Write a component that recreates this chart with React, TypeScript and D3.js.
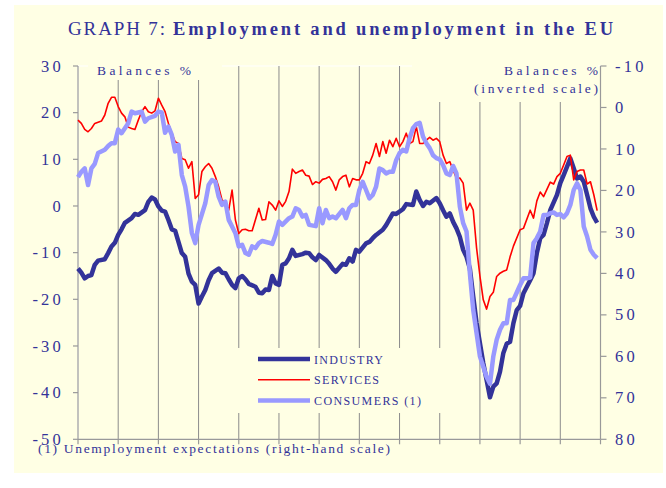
import * as d3 from 'd3';

// months since the start of the period (Jan of first year), value in balances %
const INDUSTRY: [number, number][] = [
  [0, -13.4], [1, -14.3], [2, -15.5], [3, -15.0], [4, -14.8], [5, -12.6], [6, -11.7], [8, -11.4], [9, -10.1],
  [10, -8.7], [11, -7.9], [12, -6.2], [13, -5.0], [14, -3.6], [16, -2.6], [17, -1.7], [18, -1.9], [20, -0.9],
  [21, 0.9], [22, 1.8], [23, 1.4], [24, -0.1], [25, -1.0], [26, -1.2], [27, -3.0], [28, -5.0], [29, -5.3],
  [31, -10.1], [32, -10.9], [33, -14.5], [34, -16.2], [35, -16.9], [36, -20.9], [37, -19.4], [38, -18.0],
  [39, -15.9], [40, -14.4], [42, -13.4], [43, -14.3], [44, -14.4], [45, -15.7], [46, -16.9], [47, -17.6],
  [48, -15.5], [49, -15.0], [50, -15.7], [51, -16.7], [53, -17.3], [54, -18.6], [55, -18.7], [56, -17.9],
  [57, -18.0], [58, -15.0], [59, -16.6], [60, -16.9], [61, -12.6], [62, -12.3], [63, -11.2], [64, -9.4],
  [65, -10.7], [67, -10.3], [68, -10.0], [69, -10.1], [70, -11.0], [71, -11.6], [72, -10.5], [74, -11.6],
  [75, -12.4], [76, -13.4], [77, -14.1], [79, -12.4], [80, -12.6], [81, -11.2], [82, -11.9], [83, -9.4],
  [84, -9.8], [86, -8.0], [87, -7.7], [88, -6.9], [89, -6.2], [91, -5.1], [92, -4.1], [94, -1.6], [95, -1.7],
  [97, -0.7], [98, 0.4], [100, 0.2], [101, 3.1], [102, 1.3], [103, 0.0], [104, 0.9], [105, 0.6], [107, 1.7],
  [108, 0.6], [109, -0.9], [110, -2.3], [111, -1.6], [112, -3.4], [113, -4.8], [114, -6.6], [115, -9.4],
  [116, -10.9], [117, -13.4], [118, -19.4], [119, -25.1], [120, -29.4], [121, -33.7], [122, -37.3],
  [123, -41.0], [124, -38.7], [125, -38.0], [126, -35.5], [127, -31.5], [128, -29.5], [129, -29.1],
  [130, -25.1], [131, -22.3], [132, -21.4], [133, -18.7], [135, -15.9], [136, -14.4], [137, -10.1],
  [138, -6.9], [139, -6.2], [140, -3.7], [141, -0.9], [143, 2.4], [144, 4.9], [145, 6.6], [147, 10.2],
  [148, 8.1], [149, 5.9], [150, 6.3], [151, 5.2], [152, 2.4], [153, -0.5], [154, -2.3], [155, -3.6],
];

const SERVICES: [number, number][] = [
  [0, 18.4], [1, 17.7], [2, 16.4], [3, 15.9], [4, 16.6], [5, 17.7], [7, 18.2], [8, 19.5], [9, 22.0],
  [10, 23.3], [11, 23.3], [12, 21.3], [13, 19.9], [14, 19.1], [15, 16.9], [16, 16.6], [17, 16.4], [18, 18.4],
  [19, 20.2], [20, 21.3], [21, 20.2], [22, 19.9], [23, 20.4], [24, 23.1], [25, 21.6], [26, 20.2], [27, 17.7],
  [28, 15.6], [29, 13.8], [30, 13.4], [31, 10.2], [32, 9.9], [33, 8.1], [34, 9.5], [35, 1.6], [36, 2.4],
  [37, 7.4], [38, 8.4], [39, 9.1], [40, 8.1], [41, 6.3], [42, 4.1], [43, 1.3], [44, 0.6], [45, -0.9],
  [46, 3.4], [47, -3.0], [48, -5.9], [49, -5.1], [50, -5.0], [51, -5.3], [52, -5.3], [54, -0.5], [55, -3.0],
  [56, -2.9], [57, 0.9], [58, 0.2], [59, -0.9], [60, 1.1], [61, -0.1], [62, 1.0], [63, 3.1], [64, 7.9],
  [65, 7.0], [66, 7.4], [67, 7.7], [68, 6.6], [69, 6.4], [70, 4.6], [71, 5.2], [72, 4.9], [73, 5.7],
  [74, 5.9], [75, 6.3], [76, 5.2], [77, 3.4], [78, 5.6], [79, 6.3], [80, 6.6], [81, 4.1], [82, 5.9],
  [83, 5.6], [84, 5.6], [85, 7.0], [86, 9.5], [87, 9.1], [88, 10.9], [89, 13.4], [90, 10.6], [91, 13.8],
  [92, 11.3], [93, 14.1], [94, 12.7], [95, 14.5], [96, 12.7], [97, 13.8], [98, 15.6], [99, 13.4],
  [100, 13.8], [101, 17.0], [102, 13.4], [103, 13.4], [104, 14.1], [105, 14.7], [106, 14.1], [107, 14.5],
  [108, 13.8], [109, 10.9], [110, 9.1], [111, 9.5], [112, 7.7], [113, 5.9], [114, 6.0], [115, 4.9],
  [116, -0.9], [117, 0.6], [118, -0.9], [119, -9.0], [120, -15.0], [121, -20.1], [122, -22.1], [123, -19.4],
  [124, -18.5], [125, -15.1], [126, -14.4], [127, -14.0], [128, -13.7], [129, -10.9], [130, -8.6],
  [132, -5.1], [133, -4.8], [135, -0.9], [136, -2.6], [137, 1.1], [138, 3.0], [139, 2.0], [141, 5.1],
  [142, 4.7], [143, 6.3], [144, 7.0], [145, 8.8], [146, 10.6], [147, 10.9], [148, 5.6], [149, 7.4],
  [150, 7.7], [151, 7.7], [152, 4.7], [153, 5.2], [154, 2.4], [155, -1.0],
];

// unemployment expectations, right-hand inverted scale
const CONSUMERS: [number, number][] = [
  [0, 16.8], [1, 15.5], [2, 14.7], [3, 18.7], [4, 14.7], [5, 13.6], [6, 11.0], [8, 10.2], [9, 9.3],
  [10, 8.6], [11, 8.6], [12, 5.3], [13, 6.2], [14, 5.0], [15, 3.8], [16, 1.0], [17, 1.4], [18, 1.2],
  [19, 1.0], [20, 3.4], [21, 2.6], [23, 2.0], [24, 1.0], [25, 1.2], [26, 6.1], [27, 4.6], [28, 6.6],
  [29, 10.6], [30, 9.0], [31, 16.3], [32, 19.1], [33, 23.9], [34, 30.3], [35, 32.7], [36, 28.3], [37, 25.7],
  [38, 23.1], [39, 18.7], [40, 17.5], [41, 17.9], [42, 21.5], [43, 23.5], [44, 22.7], [45, 27.1], [46, 28.7],
  [47, 30.3], [48, 33.5], [49, 33.1], [50, 35.1], [51, 35.5], [52, 33.5], [53, 33.9], [54, 32.7], [55, 32.2],
  [57, 32.6], [58, 32.9], [59, 30.7], [60, 27.5], [61, 28.3], [63, 26.7], [64, 26.3], [65, 24.3], [66, 24.7],
  [67, 26.3], [68, 25.9], [69, 28.3], [71, 28.6], [72, 24.3], [73, 27.9], [74, 24.7], [75, 26.7], [76, 26.3],
  [77, 26.7], [79, 24.7], [80, 26.7], [81, 24.3], [82, 23.5], [83, 23.5], [84, 19.9], [85, 17.9], [86, 19.9],
  [87, 21.9], [88, 21.1], [89, 19.1], [90, 14.7], [91, 15.1], [92, 15.9], [93, 15.5], [94, 15.5], [95, 12.7],
  [96, 11.0], [97, 10.2], [98, 10.6], [99, 7.4], [100, 5.0], [101, 4.0], [102, 3.7], [103, 7.0], [104, 8.6],
  [105, 9.8], [106, 11.5], [107, 12.2], [108, 12.5], [109, 13.9], [110, 15.9], [111, 16.3], [112, 14.1],
  [113, 15.9], [114, 23.9], [115, 27.9], [116, 29.9], [117, 40.0], [118, 48.8], [119, 54.4], [120, 60.0],
  [121, 62.5], [122, 65.0], [123, 66.6], [124, 60.0], [125, 56.0], [126, 53.6], [127, 52.0], [128, 52.0],
  [129, 46.4], [130, 46.4], [131, 44.6], [132, 42.8], [133, 41.2], [134, 41.2], [135, 41.0], [136, 32.7],
  [137, 31.5], [138, 29.9], [139, 25.9], [140, 25.9], [141, 25.5], [142, 25.3], [143, 25.9], [144, 25.7],
  [145, 26.5], [146, 25.5], [147, 23.5], [148, 19.9], [149, 18.3], [150, 19.9], [151, 28.7], [152, 31.1],
  [153, 34.3], [154, 35.5], [155, 36.3],
];

const YEARS = d3.range(0, 14); // 13 yearly intervals on the x axis
const LEFT_TICKS = [30, 20, 10, 0, -10, -20, -30, -40, -50];
const RIGHT_TICKS = [-10, 0, 10, 20, 30, 40, 50, 60, 70, 80];

const LEGEND = [
  { label: 'INDUSTRY', color: '#333399', width: 4.5, len: 69 },
  { label: 'SERVICES', color: '#ff0000', width: 1.6, len: 65 },
  { label: 'CONSUMERS (1)', color: '#9999ff', width: 4.5, len: 107 },
];

const W = 666;
const H = 488;
const NAVY = '#333399';
const AXIS = '#999999';
const GRID = '#8c8c8c';
const BG = '#ffffe4';
const FONT = '"Liberation Serif", "Times New Roman", serif';

export default function App() {
  const m = { left: 78, right: 600.5, top: 66, bottom: 439.3 };
  const x = d3.scaleLinear().domain([0, 156]).range([m.left, m.right]);
  const yL = d3.scaleLinear().domain([-50, 30]).range([m.bottom, m.top]);
  const yR = d3.scaleLinear().domain([-10, 80]).range([m.top, m.bottom]);

  const lineL = d3.line<[number, number]>().x(d => x(d[0])).y(d => yL(d[1]));
  const lineR = d3.line<[number, number]>().x(d => x(d[0])).y(d => yR(d[1]));

  return (
    <svg width={W} height={H} style={{ position: 'absolute', left: 0, top: 0, fontFamily: FONT }}>
      <rect x={0} y={0} width={W} height={H} fill="#ffffff" />
      <rect x={14} y={5} width={649} height={468} fill={BG} />

      {/* plot frame */}
      <rect x={m.left} y={m.top} width={m.right - m.left} height={m.bottom - m.top}
        fill="none" stroke="#ffffff" strokeWidth={1} />

      {/* yearly gridlines */}
      {YEARS.slice(1, -1).map(k => (
        <line key={k} x1={x(k * 12)} x2={x(k * 12)} y1={m.top} y2={m.bottom} stroke={GRID} strokeWidth={1} />
      ))}

      {/* boxes behind labels and legend hide the gridlines */}
      <rect x={88} y={58} width={134} height={22} fill={BG} />
      <rect x={412} y={58} width={186} height={44} fill={BG} />
      <rect x={204} y={348} width={268} height={65} fill={BG} />

      {/* axes */}
      <line x1={m.left} x2={m.left} y1={m.top} y2={m.bottom} stroke={AXIS} strokeWidth={1.2} />
      <line x1={m.right} x2={m.right} y1={m.top} y2={m.bottom} stroke={AXIS} strokeWidth={1.2} />
      <line x1={m.left} x2={m.right} y1={m.bottom} y2={m.bottom} stroke={AXIS} strokeWidth={1.2} />
      {YEARS.map(k => (
        <line key={k} x1={x(k * 12)} x2={x(k * 12)} y1={m.bottom} y2={m.bottom + 5} stroke={AXIS} strokeWidth={1.2} />
      ))}
      {LEFT_TICKS.map(t => (
        <g key={t}>
          <line x1={m.left - 5} x2={m.left} y1={yL(t)} y2={yL(t)} stroke={AXIS} strokeWidth={1.2} />
          <text x={64} y={yL(t)} dy="0.34em" textAnchor="end" fontSize={16.5} letterSpacing={3.2} fill={NAVY}>{t}</text>
        </g>
      ))}
      {RIGHT_TICKS.map(t => (
        <g key={t}>
          <line x1={m.right} x2={m.right + 6} y1={yR(t)} y2={yR(t)} stroke={AXIS} strokeWidth={1.2} />
          <text x={615} y={yR(t)} dy="0.34em" fontSize={16.5} letterSpacing={3.2} fill={NAVY}>{t}</text>
        </g>
      ))}

      {/* series */}
      <path d={lineL(INDUSTRY) ?? ''} fill="none" stroke="#333399" strokeWidth={4.5} strokeLinejoin="round" />
      <path d={lineL(SERVICES) ?? ''} fill="none" stroke="#ff0000" strokeWidth={1.6} strokeLinejoin="round" />
      <path d={lineR(CONSUMERS) ?? ''} fill="none" stroke="#9999ff" strokeWidth={4.5} strokeLinejoin="round" />

      {/* legend */}
      {LEGEND.map((l, i) => (
        <g key={l.label}>
          <line x1={258} x2={310} y1={359 + i * 20.8} y2={359 + i * 20.8} stroke={l.color} strokeWidth={l.width} />
          <text x={314} y={363.5 + i * 20.8} fontSize={12} fill={NAVY} textLength={l.len} lengthAdjust="spacing">{l.label}</text>
        </g>
      ))}

      {/* titles and notes */}
      <text x={68} y={35} fontSize={19} fill={NAVY} textLength={97} lengthAdjust="spacing">GRAPH 7:</text>
      <text x={173} y={35} fontSize={18.5} fontWeight="bold" fill={NAVY} textLength={440} lengthAdjust="spacing">
        Employment and unemployment in the EU
      </text>
      <text x={97} y={75} fontSize={13.5} fill={NAVY} textLength={94} lengthAdjust="spacing">Balances %</text>
      <text x={504} y={75} fontSize={13.5} fill={NAVY} textLength={94} lengthAdjust="spacing">Balances %</text>
      <text x={474} y={93} fontSize={13.5} fill={NAVY} textLength={124} lengthAdjust="spacing">(inverted scale)</text>
      <text x={38} y={453} fontSize={13.5} fill={NAVY} textLength={352} lengthAdjust="spacing">
        (1) Unemployment expectations (right-hand scale)
      </text>
    </svg>
  );
}
